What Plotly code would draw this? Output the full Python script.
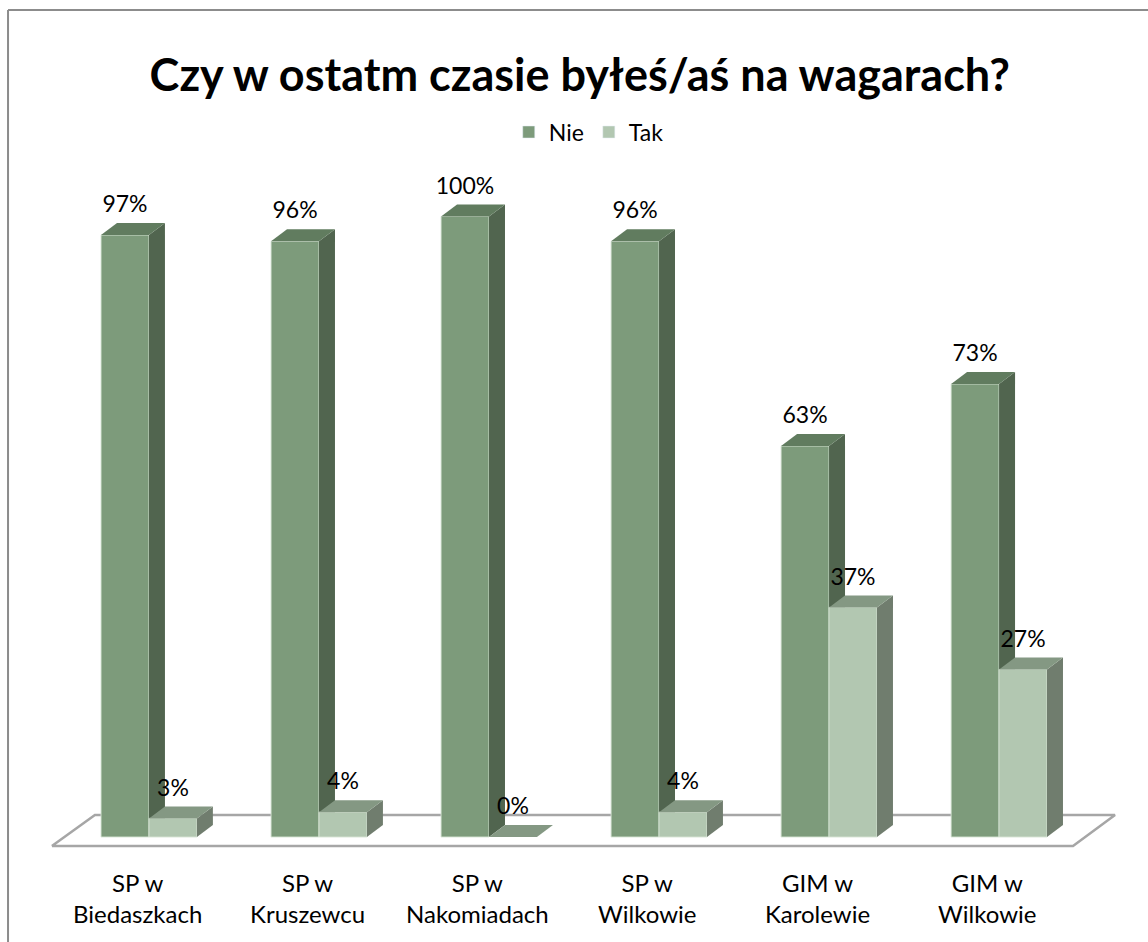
import plotly.graph_objects as go

categories = ["SP w<br>Biedaszkach", "SP w<br>Kruszewcu", "SP w<br>Nakomiadach",
              "SP w<br>Wilkowie", "GIM w<br>Karolewie", "GIM w<br>Wilkowie"]
nie = [97, 96, 100, 96, 63, 73]
tak = [3, 4, 0, 4, 37, 27]
series_names = ["Nie", "Tak"]

# style / geometry (data units: 1 category = 1 x unit, y in %)
W = 0.282          # bar width
DX = 0.094         # depth offset x
DY = 1.93          # depth offset y
LABEL_UP = 4.6
FONT = "Lato"

COL = {
    "Nie": {"front": "#7D9B7B", "top": "#617C5F", "side": "#51654F"},
    "Tak": {"front": "#B2C7B1", "top": "#849883", "side": "#707D6E"},
}

fig = go.Figure()

# floor
fx = [-0.571, 5.435, 5.682, -0.318, -0.571]
fy = [-1.45, -1.45, 3.55, 3.55, -1.45]
fig.add_trace(go.Scatter(x=fx, y=fy, mode="lines", fill="toself", fillcolor="white",
                         line=dict(color="#A6A6A6", width=2.5), showlegend=False,
                         hoverinfo="skip"))


def poly(xs, ys, color, line=None):
    fig.add_trace(go.Scatter(x=xs + [xs[0]], y=ys + [ys[0]], mode="lines", fill="toself",
                             fillcolor=color,
                             line=line or dict(width=0, color=color),
                             showlegend=False, hoverinfo="skip"))


def bar3d(x0, v, cols):
    x1 = x0 + W
    if v > 0:
        poly([x0, x1, x1, x0], [0, 0, v, v], cols["front"],
             dict(width=1, color="rgba(215,228,213,0.9)"))
        poly([x1, x1 + DX, x1 + DX, x1], [0, DY, v + DY, v], cols["side"])
    poly([x0, x1, x1 + DX, x0 + DX], [v, v, v + DY, v + DY], cols["top"])


lab_x, lab_y, lab_t = [], [], []
for i in range(len(categories)):
    for s, vals, off in (("Nie", nie, -W), ("Tak", tak, 0.0)):
        x0 = i + off
        bar3d(x0, vals[i], COL[s])
        lab_x.append(x0 + W / 2)
        lab_y.append(vals[i] + LABEL_UP)
        lab_t.append(f"{vals[i]}%")

fig.add_trace(go.Scatter(x=lab_x, y=lab_y, text=lab_t, mode="text",
                         textfont=dict(family=FONT, size=23, color="black"),
                         showlegend=False, hoverinfo="skip"))

# legend entries
for s in series_names:
    fig.add_trace(go.Bar(x=[None], y=[None], name=s, marker_color=COL[s]["front"]))

for i, c in enumerate(categories):
    fig.add_annotation(x=i - 0.07, y=-0.055, xref="x", yref="paper", text=c, showarrow=False,
                       font=dict(family=FONT, size=24, color="black"), align="center",
                       yanchor="middle")

# outer border
fig.add_shape(type="line", xref="paper", yref="paper", x0=-0.0062, x1=1.2, y0=1.232, y1=1.232,
              line=dict(color="#8C8C8C", width=2))
fig.add_shape(type="line", xref="paper", yref="paper", x0=-0.0062, x1=-0.0062, y0=1.232, y1=-0.2,
              line=dict(color="#8C8C8C", width=2))

fig.update_layout(
    width=1148, height=942,
    margin=dict(l=15, r=8, t=170, b=82),
    paper_bgcolor="white", plot_bgcolor="white",
    title=dict(text="<b>Czy w ostatm czasie byłeś/aś na wagarach?</b>", x=0.505, xanchor="center",
               y=1 - 75 / 942, yanchor="middle",
               font=dict(family=FONT, size=45, color="black")),
    legend=dict(orientation="h", x=0.51, xanchor="center", y=1.055, yanchor="middle",
                font=dict(family=FONT, size=23, color="black"), itemwidth=30,
                bgcolor="rgba(0,0,0,0)"),
    xaxis=dict(range=[-0.788, 5.829], visible=False, fixedrange=True),
    yaxis=dict(range=[-3.706, 107.48], visible=False, fixedrange=True),
    showlegend=True,
)

fig.write_html("out.html", post_script="document.body.style.margin='0';",
               config={"displayModeBar": False})
